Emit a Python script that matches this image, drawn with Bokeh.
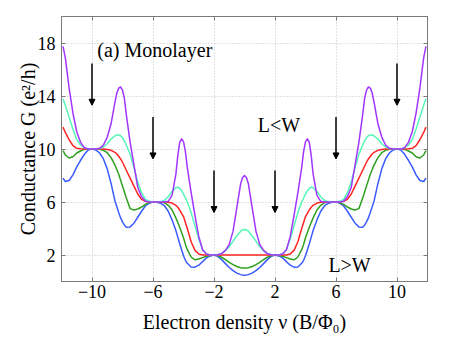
from bokeh.plotting import figure
from bokeh.models import (Range1d, LinearAxis, FixedTicker, Arrow, NormalHead,
                          Label, ColumnDataSource)
from bokeh.embed import file_html
from bokeh.resources import INLINE

# ---------------- data ----------------
nu = [-11.9, -11.75, -11.5, -11.25, -11.0, -10.75, -10.5, -10.25,
      -10.0, -9.75, -9.5, -9.25, -9.0, -8.75, -8.5, -8.375, -8.25, -8.125,
      -8.0, -7.875, -7.75, -7.5, -7.25, -7.0, -6.75, -6.5, -6.25,
      -6.0, -5.75, -5.5, -5.25, -5.0, -4.75, -4.5, -4.375, -4.25, -4.125,
      -4.0, -3.875, -3.75, -3.5, -3.25, -3.0, -2.75, -2.5, -2.25,
      -2.0, -1.75, -1.5, -1.25, -1.0, -0.75, -0.5, -0.25, -0.125,
      0.0, 0.125, 0.25, 0.5, 0.75, 1.0, 1.25, 1.5, 1.75, 2.0,
      2.25, 2.5, 2.75, 3.0, 3.25, 3.5, 3.75, 3.875, 4.0, 4.125,
      4.25, 4.375, 4.5, 4.75, 5.0, 5.25, 5.5, 5.75, 6.0,
      6.25, 6.5, 6.75, 7.0, 7.25, 7.5, 7.75, 7.875, 8.0, 8.125,
      8.25, 8.375, 8.5, 8.75, 9.0, 9.25, 9.5, 9.75, 10.0,
      10.25, 10.5, 10.75, 11.0, 11.25, 11.5, 11.75, 11.9]

g_purple = [17.75, 16.9, 14.6, 12.7, 11.3, 10.5, 10.1, 10.0,
            10.0, 10.0, 10.05, 10.3, 10.9, 11.9, 13.5, 14.2, 14.6, 14.68,
            14.45, 13.8, 12.6, 10.5, 8.8, 7.1, 6.4, 6.05, 6.0,
            6.0, 6.0, 6.0, 6.0, 6.05, 6.5, 8.1, 9.5, 10.5, 10.77,
            10.55, 9.8, 8.6, 6.7, 5.0, 3.4, 2.4, 2.08, 2.0,
            2.0, 2.02, 2.1, 2.35, 2.8, 3.8, 5.6, 7.4, 7.85,
            8.0, 7.85, 7.4, 5.6, 3.8, 2.8, 2.35, 2.1, 2.02, 2.0,
            2.0, 2.08, 2.4, 3.4, 5.0, 6.7, 8.6, 9.8, 10.55, 10.77,
            10.5, 9.5, 8.1, 6.5, 6.05, 6.0, 6.0, 6.0, 6.0,
            6.0, 6.05, 6.4, 7.1, 8.8, 10.5, 12.6, 13.8, 14.45, 14.68,
            14.6, 14.2, 13.5, 11.9, 10.9, 10.3, 10.05, 10.0, 10.0,
            10.0, 10.1, 10.5, 11.3, 12.7, 14.6, 16.9, 17.75]

g_cyan = [13.8, 13.3, 12.4, 11.5, 10.7, 10.3, 10.08, 10.0,
          10.0, 10.0, 10.04, 10.15, 10.4, 10.75, 10.98, 11.06, 11.06, 11.0,
          10.85, 10.6, 10.3, 9.6, 8.6, 7.5, 6.7, 6.2, 6.05,
          6.0, 6.0, 6.03, 6.12, 6.4, 6.8, 7.08, 7.12, 7.03, 6.85,
          6.6, 6.3, 6.0, 5.2, 4.2, 3.2, 2.4, 2.08, 2.0,
          2.0, 2.03, 2.12, 2.32, 2.62, 3.05, 3.45, 3.8, 3.9,
          3.93, 3.9, 3.8, 3.45, 3.05, 2.62, 2.32, 2.12, 2.03, 2.0,
          2.0, 2.08, 2.4, 3.2, 4.2, 5.2, 6.0, 6.3, 6.6, 6.85,
          7.03, 7.12, 7.08, 6.8, 6.4, 6.12, 6.03, 6.0, 6.0,
          6.05, 6.2, 6.7, 7.5, 8.6, 9.6, 10.3, 10.6, 10.85, 11.0,
          11.06, 11.06, 10.98, 10.75, 10.4, 10.15, 10.04, 10.0, 10.0,
          10.0, 10.08, 10.3, 10.7, 11.5, 12.4, 13.3, 13.8]

g_red = [11.65, 11.25, 10.7, 10.25, 10.05, 10.02, 10.0, 10.0,
         10.0, 10.0, 10.0, 10.0, 9.97, 9.9, 9.75, 9.62, 9.45, 9.25,
         9.0, 8.7, 8.4, 7.8, 7.2, 6.6, 6.2, 6.05, 6.0,
         6.0, 6.0, 6.0, 6.0, 5.98, 5.92, 5.75, 5.6, 5.4, 5.15,
         4.9, 4.45, 4.0, 3.0, 2.35, 2.08, 2.0, 2.0, 2.0,
         2.0, 2.0, 2.0, 2.0, 2.0, 2.0, 2.0, 2.0, 2.0,
         2.0, 2.0, 2.0, 2.0, 2.0, 2.0, 2.0, 2.0, 2.0, 2.0,
         2.0, 2.0, 2.0, 2.08, 2.35, 3.0, 4.0, 4.45, 4.9, 5.15,
         5.4, 5.6, 5.75, 5.92, 5.98, 6.0, 6.0, 6.0, 6.0,
         6.0, 6.05, 6.2, 6.6, 7.2, 7.8, 8.4, 8.7, 9.0, 9.25,
         9.45, 9.62, 9.75, 9.9, 9.97, 10.0, 10.0, 10.0, 10.0,
         10.0, 10.0, 10.02, 10.05, 10.25, 10.7, 11.25, 11.65]

g_green = [9.88, 9.55, 9.32, 9.42, 9.7, 9.85, 9.97, 10.0,
           10.0, 10.0, 9.98, 9.9, 9.72, 9.35, 8.8, 8.45, 8.1, 7.65,
           7.2, 6.75, 6.3, 5.5, 5.4, 5.47, 5.62, 5.82, 5.95,
           6.0, 6.0, 6.0, 5.95, 5.75, 5.4, 4.8, 4.45, 4.1, 3.7,
           3.3, 2.8, 2.4, 1.85, 1.64, 1.7, 1.8, 1.9, 1.97,
           2.0, 1.95, 1.83, 1.65, 1.45, 1.27, 1.13, 1.04, 1.02,
           1.01, 1.02, 1.04, 1.13, 1.27, 1.45, 1.65, 1.83, 1.95, 2.0,
           1.97, 1.9, 1.8, 1.7, 1.64, 1.85, 2.4, 2.8, 3.3, 3.7,
           4.1, 4.45, 4.8, 5.4, 5.75, 5.95, 6.0, 6.0, 6.0,
           5.95, 5.82, 5.62, 5.47, 5.4, 5.5, 6.3, 6.75, 7.2, 7.65,
           8.1, 8.45, 8.8, 9.35, 9.72, 9.9, 9.98, 10.0, 10.0,
           10.0, 9.97, 9.85, 9.7, 9.42, 9.32, 9.55, 9.88]

g_blue = [7.8, 7.55, 7.62, 8.05, 8.65, 9.15, 9.6, 9.93,
          10.0, 9.93, 9.7, 9.25, 8.5, 7.4, 6.1, 5.65, 5.2, 4.8,
          4.5, 4.25, 4.1, 4.12, 4.4, 4.85, 5.3, 5.7, 5.92,
          6.0, 5.98, 5.9, 5.72, 5.3, 4.65, 3.85, 3.35, 2.85, 2.4,
          1.95, 1.6, 1.38, 1.1, 1.08, 1.23, 1.5, 1.78, 1.93,
          2.0, 1.9, 1.65, 1.35, 1.06, 0.82, 0.63, 0.52, 0.49,
          0.48, 0.49, 0.52, 0.63, 0.82, 1.06, 1.35, 1.65, 1.9, 2.0,
          1.93, 1.78, 1.5, 1.23, 1.08, 1.1, 1.38, 1.6, 1.95, 2.4,
          2.85, 3.35, 3.85, 4.65, 5.3, 5.72, 5.9, 5.98, 6.0,
          5.92, 5.7, 5.3, 4.85, 4.4, 4.12, 4.1, 4.25, 4.5, 4.8,
          5.2, 5.65, 6.1, 7.4, 8.5, 9.25, 9.7, 9.93, 10.0,
          9.93, 9.6, 9.15, 8.65, 8.05, 7.62, 7.55, 7.8]

x_ticks = [-10, -6, -2, 2, 6, 10]
x_tick_labels = ["\u221210", "\u22126", "\u22122", "2", "6", "10"]
y_ticks = [2, 6, 10, 14, 18]
y_tick_labels = ["2", "6", "10", "14", "18"]

arrow_nu = [-10, -6, -2, 2, 6, 10]
arrow_from = [16.45, 12.42, 8.38, 8.38, 12.42, 16.45]
arrow_to = [13.3, 9.25, 5.2, 5.2, 9.25, 13.3]

for s in (g_purple, g_cyan, g_red, g_green, g_blue):
    assert len(s) == len(nu)

# ---------------- figure ----------------
FONT = "Liberation Serif"
AXC = "#7a7a7a"

p = figure(frame_width=366, frame_height=265,
           min_border_left=61, min_border_right=43,
           min_border_top=16, min_border_bottom=56,
           x_range=Range1d(-12, 12), y_range=Range1d(0, 20),
           output_backend="svg", toolbar_location=None,
           background_fill_color="white", border_fill_color="white")
p.outline_line_color = AXC
p.outline_line_width = 1

xt = FixedTicker(ticks=x_ticks)
yt = FixedTicker(ticks=y_ticks)

p.xaxis.ticker = xt
p.yaxis.ticker = yt
p.xaxis.major_label_overrides = {t: l for t, l in zip(x_ticks, x_tick_labels)}
p.yaxis.major_label_overrides = {t: l for t, l in zip(y_ticks, y_tick_labels)}

for ax in (p.xaxis[0], p.yaxis[0]):
    ax.major_tick_in = 4
    ax.major_tick_out = 0
    ax.minor_tick_line_color = None
    ax.axis_line_color = AXC
    ax.major_tick_line_color = AXC
    ax.major_label_text_font = FONT
    ax.major_label_text_font_size = "18px"
    ax.major_label_text_color = "black"
    ax.axis_label_text_font = FONT
    ax.axis_label_text_font_size = "20px"
    ax.axis_label_text_font_style = "normal"
    ax.axis_label_text_color = "black"

p.xaxis.major_label_standoff = 3
p.yaxis.major_label_standoff = 6
p.xaxis.axis_label = "Electron density \u03bd (B/\u03a6\u2080)"
p.yaxis.axis_label = "Conductance G (e\u00b2/h)"
p.xaxis.axis_label_standoff = 10
p.yaxis.axis_label_standoff = -4

for loc, tk in (("right", yt), ("above", xt)):
    ax = LinearAxis(ticker=tk, major_tick_in=4, major_tick_out=0,
                    minor_tick_line_color=None, axis_line_color=AXC,
                    major_tick_line_color=AXC, major_label_text_color=None,
                    major_label_text_font_size="1px", major_label_standoff=0)
    p.add_layout(ax, loc)

p.xgrid.ticker = xt
p.ygrid.ticker = yt
for g in (p.xgrid[0], p.ygrid[0]):
    g.grid_line_color = "#c4c4c4"
    g.grid_line_dash = "1 2"
    g.grid_line_width = 1

src = ColumnDataSource(dict(nu=nu, purple=g_purple, cyan=g_cyan, red=g_red,
                            green=g_green, blue=g_blue))
for col, c in (("blue", "#3a5cff"), ("green", "#2f9f1f"), ("red", "#ff2424"),
               ("cyan", "#55f5b5"), ("purple", "#a235ff")):
    p.line("nu", col, source=src, line_color=c, line_width=1.5,
           line_join="round")

asrc = ColumnDataSource(dict(x=arrow_nu, y0=arrow_from, y1=arrow_to))
p.add_layout(Arrow(end=NormalHead(size=6, fill_color="black", line_color="black",
                                  line_width=1),
                   x_start="x", y_start="y0", x_end="x", y_end="y1",
                   source=asrc, line_color="black", line_width=1.5))

for txt, x, y in (("(a) Monolayer", -9.65, 17.45), ("L<W", 0.87, 11.78),
                  ("L>W", 5.5, 1.26)):
    p.add_layout(Label(x=x, y=y, text=txt, text_font=FONT, text_font_size="20px",
                       text_baseline="alphabetic", text_color="black"))

open("out.html", "w").write(file_html(p, INLINE))
